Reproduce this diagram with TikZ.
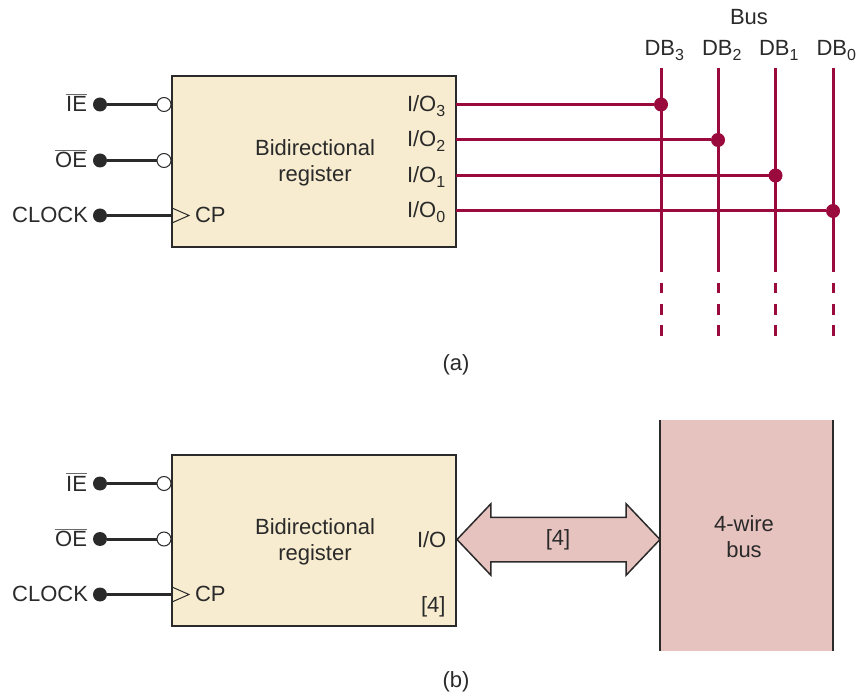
\documentclass[tikz,border=0pt]{standalone}
\usepackage{fontspec}
\setmainfont{Liberation Sans}
\usetikzlibrary{shapes.arrows}
\definecolor{regfill}{HTML}{F7ECCF}
\definecolor{busfill}{HTML}{E7C3BF}
\definecolor{buscol}{HTML}{9B0A3C}
\definecolor{inkcol}{HTML}{2A2A2A}
\newcommand{\lowidx}[1]{\raisebox{-5pt}{\fontsize{16}{16}\selectfont #1}}
\newcommand{\barred}[1]{\leavevmode\vbox{{\color{inkcol!70}\hrule height 0.9pt}\kern 1.6pt\hbox{#1}}}
\tikzset{
  lbl/.style={inner sep=0pt,outer sep=0pt,anchor=base west,text=inkcol,font=\fontsize{22}{26}\selectfont},
  lblr/.style={lbl,anchor=base east},
  lblc/.style={lbl,anchor=center,align=center},
  regbox/.style={draw=inkcol,fill=regfill,line width=1.6pt,minimum width=284pt,minimum height=171pt,inner sep=0pt,outer sep=0pt},
  indot/.style={circle,fill=inkcol,minimum size=14pt,inner sep=0pt,outer sep=0pt},
  bubble/.style={circle,draw=inkcol,fill=white,line width=1pt,minimum size=14pt,inner sep=0pt,outer sep=0pt},
  busdot/.style={circle,fill=buscol,minimum size=14pt,inner sep=0pt,outer sep=0pt},
  wire/.style={draw=inkcol,line width=3pt},
  buswire/.style={draw=buscol,line width=3pt},
  busdash/.style={buswire,dash pattern=on 10.5pt off 10.7pt},
  clktip/.style={draw=inkcol,line width=1pt},
}
\begin{document}
\begin{tikzpicture}[x=1pt,y=-1pt]
\useasboundingbox (0,0) rectangle (857,692);
% part (a)
\node[regbox] (rega) at (314,161.5) {};
\node[lblc] (namea) at (315,162.5) {Bidirectional\\register};
\node[lblr] (iea) at (87,112) {\barred{IE}};
\node[lblr] (oea) at (87,168) {\barred{OE}};
\node[lblr] (clka) at (88,222.5) {CLOCK};
\node[indot] (iedota) at (100,104.5) {};
\node[indot] (oedota) at (100,160.5) {};
\node[indot] (clkdota) at (100,215.5) {};
\node[bubble] (iebuba) at (164,104.5) {};
\node[bubble] (oebuba) at (164,160.5) {};
\draw[wire] (iedota) -- (iebuba);
\draw[wire] (oedota) -- (oebuba);
\draw[wire] (clkdota) -- (clkdota -| rega.west);
\draw[clktip] (172,208) -- (189,215.5) -- (172,223);
\node[lbl] (cpa) at (195,222.5) {CP};
\node[lbl] (io3) at (407,111.5) {I/O\lowidx{3}};
\node[lbl] (io2) at (407,147) {I/O\lowidx{2}};
\node[lbl] (io1) at (407,182.5) {I/O\lowidx{1}};
\node[lbl] (io0) at (407,218) {I/O\lowidx{0}};
\node[lblc] (busname) at (749,17) {Bus};
\node[lbl] (db3) at (644.5,56) {DB\lowidx{3}};
\node[lbl] (db2) at (702,56) {DB\lowidx{2}};
\node[lbl] (db1) at (759,56) {DB\lowidx{1}};
\node[lbl] (db0) at (816.5,56) {DB\lowidx{0}};
\coordinate (top3) at (661,68);
\coordinate (top2) at (718,68);
\coordinate (top1) at (775.5,68);
\coordinate (top0) at (833,68);
\coordinate (end3) at (661,272);
\coordinate (end2) at (718,272);
\coordinate (end1) at (775.5,272);
\coordinate (end0) at (833,272);
\coordinate (gap3) at (661,283);
\coordinate (gap2) at (718,283);
\coordinate (gap1) at (775.5,283);
\coordinate (gap0) at (833,283);
\coordinate (low3) at (661,337);
\coordinate (low2) at (718,337);
\coordinate (low1) at (775.5,337);
\coordinate (low0) at (833,337);
\draw[buswire] (top3) -- (end3);
\draw[buswire] (top2) -- (end2);
\draw[buswire] (top1) -- (end1);
\draw[buswire] (top0) -- (end0);
\draw[busdash] (gap3) -- (low3);
\draw[busdash] (gap2) -- (low2);
\draw[busdash] (gap1) -- (low1);
\draw[busdash] (gap0) -- (low0);
\node[busdot] (dot3) at (661,104.5) {};
\node[busdot] (dot2) at (718,140) {};
\node[busdot] (dot1) at (775.5,175.5) {};
\node[busdot] (dot0) at (833,211) {};
\draw[buswire] (rega.east |- dot3) -- (dot3);
\draw[buswire] (rega.east |- dot2) -- (dot2);
\draw[buswire] (rega.east |- dot1) -- (dot1);
\draw[buswire] (rega.east |- dot0) -- (dot0);
\node[lblc] (capa) at (456,364.5) {(a)};
% part (b)
\node[regbox] (regb) at (314,540.5) {};
\node[lblc] (nameb) at (315,541.5) {Bidirectional\\register};
\node[lblr] (ieb) at (87,491) {\barred{IE}};
\node[lblr] (oeb) at (87,546.5) {\barred{OE}};
\node[lblr] (clkb) at (88,601.5) {CLOCK};
\node[indot] (iedotb) at (100,483.5) {};
\node[indot] (oedotb) at (100,539) {};
\node[indot] (clkdotb) at (100,594.5) {};
\node[bubble] (iebubb) at (164,483.5) {};
\node[bubble] (oebubb) at (164,539) {};
\draw[wire] (iedotb) -- (iebubb);
\draw[wire] (oedotb) -- (oebubb);
\draw[wire] (clkdotb) -- (clkdotb -| regb.west);
\draw[clktip] (172,587) -- (189,594.5) -- (172,602);
\node[lbl] (cpb) at (195,601.5) {CP};
\node[lbl] (iob) at (417,547) {I/O};
\node[lbl] (widthb) at (421,612.5) {[4]};
\node[fill=busfill,minimum width=173pt,minimum height=231pt,inner sep=0pt,outer sep=0pt] (bus) at (746.5,535.5) {};
\draw[draw=inkcol,line width=1.5pt] (bus.north west) -- (bus.south west);
\draw[draw=inkcol,line width=1.5pt] (bus.north east) -- (bus.south east);
\node[lblc] (busb) at (744,536.5) {4-wire\\bus};
\node[double arrow,draw=inkcol,fill=busfill,line width=1.5pt,inner xsep=0pt,inner ysep=21.5pt,outer sep=0pt,minimum height=203pt,double arrow head extend=13.5pt,double arrow tip angle=93] (link) at (558.5,539.5) {};
\node[lblc] (linkw) at (558,539.5) {[4]};
\node[lblc] (capb) at (456,681.5) {(b)};
\end{tikzpicture}
\end{document}
